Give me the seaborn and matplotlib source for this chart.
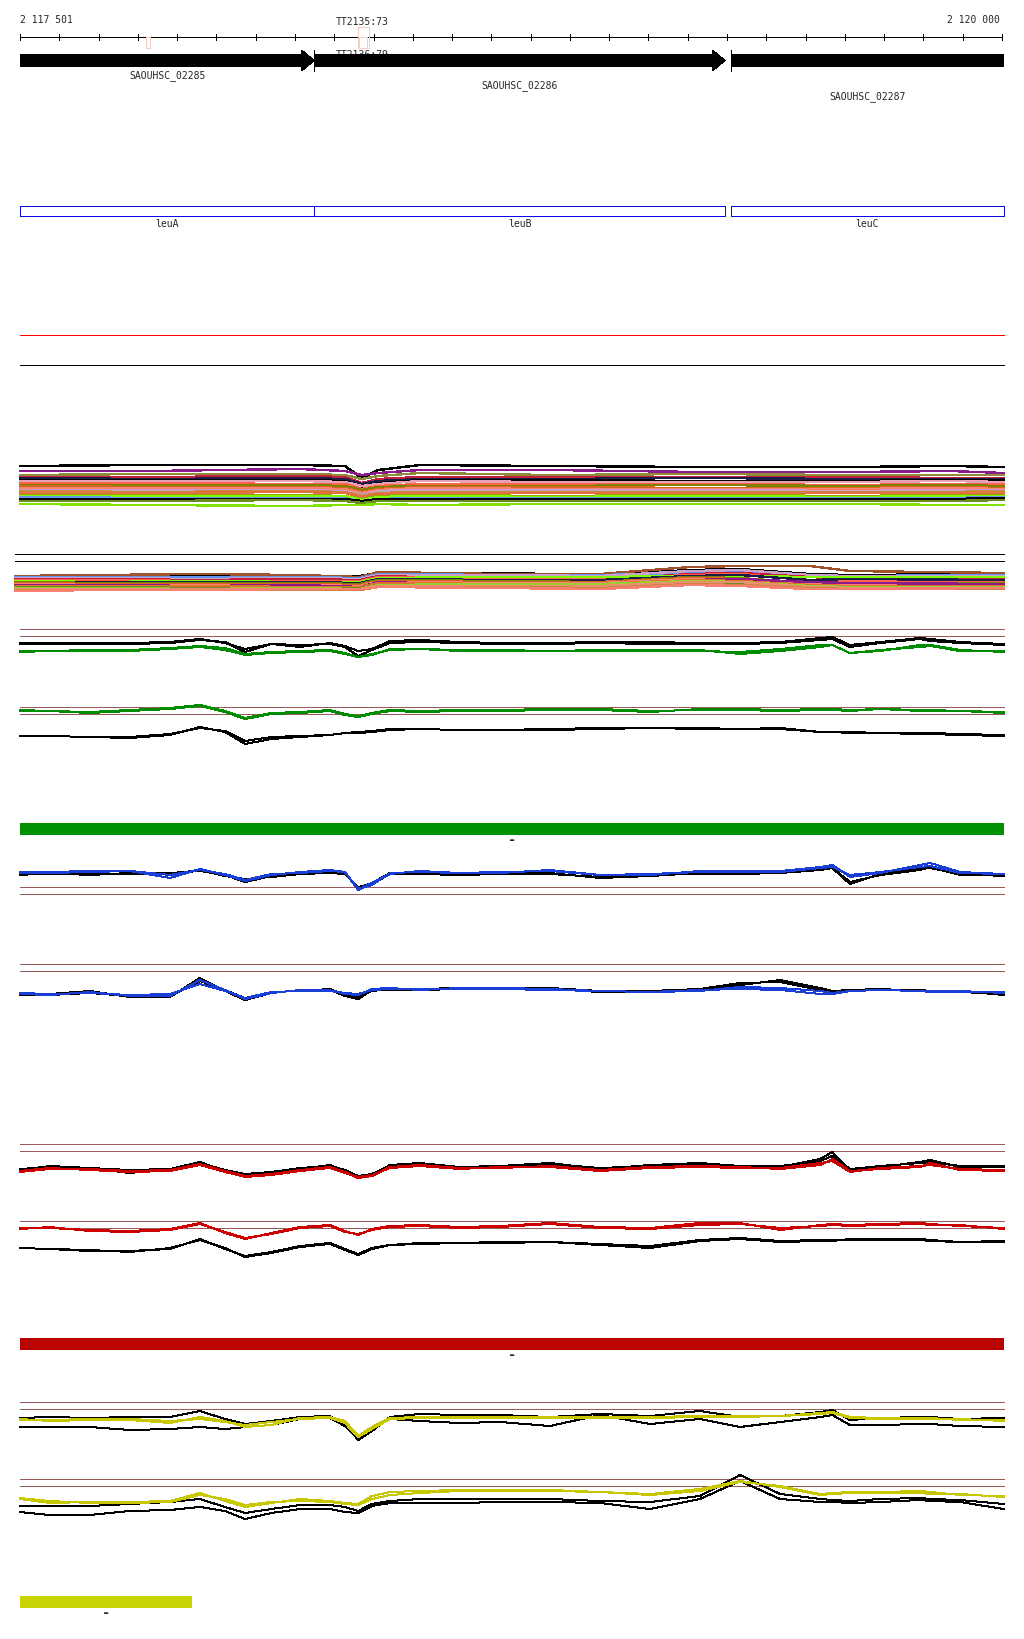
import numpy as np
import pandas as pd
import matplotlib
matplotlib.use("Agg")
import matplotlib.pyplot as plt
import seaborn as sns
from matplotlib.patches import Polygon, Rectangle

sns.set_theme(style="white")
plt.rcParams['font.family'] = ['DejaVu Sans Mono', 'DejaVu Sans']
# crisp, pixel-like lines as in the browser screenshot
plt.rcParams['lines.antialiased'] = False
plt.rcParams['patch.antialiased'] = False

# ---------------- data ----------------
WIN_START = 2117500
WIN_END = 2120005
RULER_END = 2120000

GENE_NAMES = ["SAOUHSC_02285", "SAOUHSC_02286", "SAOUHSC_02287"]
GENE_START = [2117500, 2118249, 2119310]
GENE_END = [2118249, 2119295, 2120100]

FEAT_NAMES = ["leuA", "leuB", "leuC"]
FEAT_START = [2117500, 2118249, 2119310]
FEAT_END = [2118249, 2119295, 2120005]

TERM_NAMES = ["", "TT2135:73", "TT2136:79"]
TERM_START = [2117821, 2118361, 2118363]
TERM_END = [2117831, 2118389, 2118383]
TERM_TALL = [False, True, False]

# positions (bp) where the profile tracks were read
POS = [2117500, 2117576, 2117678, 2117780, 2117882, 2117958, 2118022, 2118073,
       2118140, 2118213, 2118289, 2118327, 2118361, 2118396, 2118442, 2118518,
       2118620, 2118722, 2118849, 2118977, 2119104, 2119231, 2119333, 2119435,
       2119537, 2119568, 2119613, 2119690, 2119791, 2119817, 2119893, 2120005]

# green panels
G1_THRESH = [40, 33]
G1_BLACK_A = [26,26,26,26,27,30,26,20,25,22,26,23,18,20,28,29,27,26,26,27,27,26,26,27,31,32,24,27,31,30,27,25]
G1_BLACK_B = [25,25,25,25,26,29,27,17,25,24,25,22,13,19,26,27,26,25,25,26,25,25,25,26,29,30,22,26,30,28,26,24]
G1_GREEN_A = [18,18,19,19,21,23,21,15,17,18,19,16,12,15,19,20,19,19,18,18,18,19,15,18,22,24,16,19,22,23,18,18]
G1_GREEN_B = [17,18,18,18,20,22,19,14,16,17,18,15,12,14,20,20,18,18,18,19,19,18,17,20,24,24,16,18,24,24,19,17]

G2_THRESH = [42, 35]
G2_GREEN_A = [39,38,37,39,41,44,38,31,36,37,39,35,33,36,39,38,39,39,40,39,37,40,39,38,39,40,39,40,39,39,38,37]
G2_GREEN_B = [38,38,36,38,40,43,37,30,35,36,38,34,32,35,38,37,38,38,39,40,38,39,40,39,40,39,38,40,38,38,38,36]
G2_BLACK_A = [13,13,12,12,15,21,18,8,12,13,14,16,17,18,20,20,19,19,20,21,21,21,20,21,17,17,17,16,16,16,15,14]
G2_BLACK_B = [13,13,12,11,14,22,17,5,10,12,14,16,16,17,19,20,19,19,19,20,21,20,20,20,17,17,16,16,15,15,14,13]

# blue panels
H1_THRESH = [12, 5]
H1_BLUE_A = [26,27,28,28,21,30,24,18,24,27,29,27,9,16,25,28,26,26,29,24,24,28,27,28,32,34,22,26,34,36,27,25]
H1_BLUE_B = [27,26,27,28,24,29,25,19,25,26,28,27,10,14,26,27,26,27,28,24,25,27,28,27,31,32,24,27,32,33,26,25]
H1_BLACK_A = [25,25,26,25,26,28,24,17,23,26,27,26,11,16,26,26,25,25,26,21,23,26,26,26,30,31,15,25,31,31,25,23]
H1_BLACK_B = [24,26,24,26,25,29,23,20,22,25,26,25,12,15,25,25,24,25,25,22,24,25,25,26,29,31,17,24,29,32,24,24]

H2_THRESH = [45, 38]
H2_BLUE_A = [15,14,17,13,13,29,19,10,16,19,19,15,14,20,21,19,21,21,20,18,17,19,20,19,15,15,18,19,18,17,17,17]
H2_BLUE_B = [16,15,16,14,15,25,18,11,17,18,18,16,15,19,20,20,20,20,19,18,17,18,22,21,18,16,18,19,18,18,18,16]
H2_BLACK_A = [14,14,16,13,12,31,18,9,16,19,19,13,10,19,19,20,21,21,21,18,17,20,26,27,19,17,19,19,19,18,17,15]
H2_BLACK_B = [15,15,18,12,13,28,19,11,17,18,20,14,12,18,20,19,20,21,20,17,18,20,24,29,21,18,19,20,18,18,18,14]

# red panels
R1_THRESH = [45, 38]
R1_BLACK_A = [19,23,21,16,20,27,18,14,16,20,24,18,12,14,24,26,22,23,26,20,24,26,23,22,30,37,19,22,27,29,22,23]
R1_BLACK_B = [20,22,21,19,20,26,19,15,17,21,23,19,13,15,23,25,22,22,25,21,23,25,22,23,28,33,20,23,26,27,23,22]
R1_RED_A = [17,20,20,18,19,25,18,13,15,19,22,17,11,13,22,24,21,21,23,19,22,23,22,20,24,30,18,20,22,26,19,18]
R1_RED_B = [18,21,19,17,18,24,17,12,14,18,21,16,12,14,21,23,20,22,22,18,21,22,21,21,26,28,17,21,23,24,20,19]

R2_THRESH = [48, 41]
R2_RED_A = [41,41,39,38,40,46,36,30,36,42,44,38,34,40,43,44,42,43,46,42,41,46,46,39,44,45,44,45,46,45,43,41]
R2_RED_B = [40,42,38,37,39,45,37,31,35,41,43,37,35,39,42,43,41,42,45,41,40,44,45,41,43,44,43,44,45,44,44,40]
R2_BLACK_A = [21,20,18,18,20,30,20,13,17,23,26,20,15,21,24,26,26,27,27,25,23,29,31,28,29,29,29,30,30,29,27,28]
R2_BLACK_B = [21,20,19,17,21,29,21,12,16,22,25,19,14,20,24,25,26,26,27,24,21,28,30,27,28,28,30,29,29,28,27,27]

# yellow panels
Y1_THRESH = [47, 40]
Y1_BLACK_A = [31,32,31,32,32,38,30,25,28,32,33,25,9,18,32,35,34,34,32,35,33,38,32,33,37,39,29,31,32,32,30,31]
Y1_BLACK_B = [22,22,22,19,20,22,20,22,24,30,31,23,10,20,30,28,26,27,23,34,25,30,22,27,32,34,24,24,25,25,23,22]
Y1_YELLOW_A = [29,29,30,29,26,32,28,22,24,31,32,28,13,22,31,32,32,32,32,32,32,33,33,33,36,37,32,31,30,30,30,28]
Y1_YELLOW_B = [30,28,29,30,28,30,27,24,27,30,31,26,12,20,30,31,31,31,31,31,31,32,32,33,35,36,31,30,31,31,29,29]

Y2_THRESH = [50, 43]
Y2_YELLOW_A = [30,26,27,27,28,36,28,22,26,30,28,26,25,33,37,38,39,39,39,37,35,40,48,42,34,35,36,37,38,37,34,33]
Y2_YELLOW_B = [31,28,26,26,27,34,30,24,27,28,27,25,24,30,34,36,38,38,38,37,34,38,47,43,35,36,37,36,36,35,35,32]
Y2_BLACK_A = [23,23,23,25,27,30,22,16,20,24,24,22,18,25,28,30,30,30,30,28,27,33,54,35,30,29,28,30,31,30,29,25]
Y2_BLACK_B = [17,14,14,18,19,22,18,10,16,20,20,17,16,23,26,26,26,27,27,26,20,30,48,30,27,27,26,27,29,28,27,20]

# multi-sample bands
BAND1_POS = [2117500, 2117831, 2118213, 2118327, 2118370, 2118412,
             2118518, 2118849, 2119231, 2119613, 2119868, 2120005]
BAND1_COLORS = ["#000000", "#8b1a8b", "#8f8a3c", "#c41e3a", "#1c1c48", "#000000",
                "#e8a0b4", "#ff6347", "#808000", "#d2691e", "#fa8072", "#c8a0c8",
                "#cd853f", "#e07040", "#a0a000", "#7cfc00", "#6495ed", "#000000",
                "#6b8e23", "#80e000"]
BAND1_VALUES = [
    [48,49,49,48,36,44,49,48,47,47,48,47],
    [43,43,45,43,39,41,44,44,42,42,43,41],
    [39,40,40,39,35,38,41,39,40,39,39,39],
    [37,37,38,37,31,35,37,37,37,37,36,36],
    [36,35,36,35,30,33,35,35,36,35,35,35],
    [34,34,34,33,27,31,34,34,33,33,34,34],
    [33,33,33,32,28,30,33,32,32,32,33,32],
    [31,31,30,30,25,28,30,30,30,29,30,30],
    [29,29,29,28,24,27,28,28,29,28,29,28],
    [28,27,27,26,22,25,27,27,26,26,27,26],
    [26,26,26,25,21,24,26,25,25,25,26,25],
    [24,24,24,23,19,23,24,24,24,23,24,24],
    [23,22,23,22,18,21,22,22,22,22,22,23],
    [21,21,22,21,17,20,21,21,21,21,21,21],
    [19,19,19,18,15,18,19,18,19,18,19,19],
    [18,18,18,18,14,17,18,17,18,17,18,18],
    [17,16,16,16,12,15,16,16,16,16,16,17],
    [15,15,15,15,13,15,15,15,15,15,15,16],
    [13,13,14,13,11,13,13,13,13,13,13,14],
    [10,9,8,9,9,10,9,10,10,10,9,9],
]

BAND2_POS = [2117487, 2117704, 2117958, 2118213, 2118366, 2118412, 2118722,
             2118977, 2119206, 2119333, 2119511, 2119613, 2120005]
BAND2_COLORS = ["#000000", "#a0522d", "#6495ed", "#c8a0c8", "#c41e3a", "#ff6347",
                "#7cfc00", "#1c1c48", "#808000", "#d2691e", "#fa8072", "#8b1a8b",
                "#e07030", "#6b8e23", "#9acd32", "#e89070", "#cd853f", "#fa8072"]
BAND2_VALUES = [
    [23,23,23,23,23,26,26,24,29,30,25,24,25],
    [23,24,25,24,22,27,25,25,32,33,33,28,26],
    [22,22,22,22,21,25,24,24,26,28,23,23,24],
    [21,21,20,21,20,24,24,23,28,29,24,23,23],
    [20,20,19,20,19,23,20,19,25,26,22,20,21],
    [19,19,18,18,18,22,21,20,24,25,19,18,18],
    [18,17,18,17,17,21,22,22,23,23,22,22,22],
    [17,17,17,17,16,20,19,19,23,24,19,20,19],
    [17,16,16,16,15,19,18,17,22,21,16,15,16],
    [16,15,15,15,14,18,17,17,21,20,16,15,15],
    [15,14,14,14,13,17,16,16,20,19,15,14,14],
    [14,14,13,14,12,17,14,14,19,20,17,16,15],
    [13,13,13,12,12,16,15,15,19,18,14,13,13],
    [12,12,11,11,11,14,13,12,16,16,12,11,11],
    [11,11,10,11,10,14,15,15,18,17,13,12,12],
    [10,10,10,10,10,13,13,13,17,17,12,11,10],
    [9,9,9,9,9,12,12,11,15,14,11,10,10],
    [8,9,9,10,10,12,11,10,14,13,10,10,11],
]

# colour key bars
BAR_COLORS = ["#009000", "#bb0000", "#c8d404"]
BAR_END = [2120005, 2120005, 2117938]

# ---------------- layout ----------------
W, H = 1024, 1640
BP_PER_PX = 2500 / 982
XMIN = WIN_START - 20 * BP_PER_PX
XMAX = XMIN + W * BP_PER_PX
LW = 0.72   # one pixel at dpi 100
BROWN = "#9a5a5a"
GREEN = "#008c00"
BLUE = "#1a3fd6"
RED = "#cc0000"
YELLOW = "#c8c800"

fig = plt.figure(figsize=(W / 100, H / 100), dpi=100)
ax0 = fig.add_axes([0, 0, 1, 1])
ax0.set_xlim(XMIN, XMAX)
ax0.set_ylim(H, 0)
ax0.axis("off")

# ruler
ax0.hlines(38, WIN_START, RULER_END, color="black", lw=LW)
ticks = list(range(WIN_START, RULER_END + 1, 100))
ax0.vlines(ticks, 35, 41, color="black", lw=LW)
ax0.text(WIN_START, 20, "2 117 501", fontsize=7, ha="left", va="center")
ax0.text(RULER_END - 5, 20, "2 120 000", fontsize=7, ha="right", va="center")

# terminators
for s, e, tall in zip(TERM_START, TERM_END, TERM_TALL):
    top = 28 if tall else 38
    ax0.add_patch(Rectangle((s, top), e - s, 49 - top, fill=False,
                            edgecolor="#f5cdc3", lw=LW, zorder=2))
ax0.text(2118305, 22, TERM_NAMES[1], fontsize=7, ha="left", va="center", zorder=2)
ax0.text(2118305, 50, TERM_NAMES[2], fontsize=7, ha="left", va="top", zorder=2)

# genes
HEAD = 32
label_rows = [76, 86, 97]
for s, e, name, row in zip(GENE_START, GENE_END, GENE_NAMES, label_rows):
    if e <= WIN_END:
        pts = [(s, 55), (e - HEAD, 55), (e - HEAD, 51), (e, 61.5),
               (e - HEAD, 72), (e - HEAD, 68), (s, 68)]
        mid = (s + e) / 2
    else:
        pts = [(s, 55), (WIN_END, 55), (WIN_END, 68), (s, 68)]
        mid = (s + WIN_END) / 2
    ax0.add_patch(Polygon(pts, closed=True, facecolor="black", edgecolor="none", zorder=3))
    if s > WIN_START:
        ax0.vlines(s, 51, 72, color="black", lw=LW, zorder=3)
    ax0.text(mid, row, name, fontsize=7, ha="center", va="center")

# features
for s, e, name in zip(FEAT_START, FEAT_END, FEAT_NAMES):
    ax0.add_patch(Rectangle((s, 207), e - s, 10, fill=False, edgecolor="#0a0ae0", lw=LW))
    ax0.text((s + e) / 2, 224, name, fontsize=7, ha="center", va="center")

ax0.hlines(336, WIN_START, WIN_END, color="#ff0000", lw=LW)
ax0.hlines(366, WIN_START, WIN_END, color="black", lw=LW)
ax0.hlines([555, 562], WIN_START - 13, WIN_END, color="black", lw=LW)

# colour bars
bar_rows = [824, 1339, 1597]
for c, e, row in zip(BAR_COLORS, BAR_END, bar_rows):
    ax0.add_patch(Rectangle((WIN_START, row), e - WIN_START, 12, facecolor=c, edgecolor="none"))
    ax0.text((WIN_START + e) / 2, row + 16, "-", fontsize=10, fontweight="bold",
             ha="center", va="center")


def panel(top, bottom):
    ax = fig.add_axes([0, 1 - bottom / H, 1, (bottom - top) / H])
    ax.patch.set_alpha(0)
    return ax


def finish(ax, top, bottom):
    ax.set_xlim(XMIN, XMAX)
    ax.set_ylim(0, bottom - top)
    ax.axis("off")


def signal_panel(top, bottom, thresh, series):
    ax = panel(top, bottom)
    ax.hlines(thresh, WIN_START, WIN_END, color=BROWN, lw=LW)
    for vals, c in series:
        sns.lineplot(x=POS, y=vals, ax=ax, color=c, linewidth=LW, legend=False)
    finish(ax, top, bottom)


# bands
ax = panel(455, 515)
for vals, c in zip(BAND1_VALUES, BAND1_COLORS):
    sns.lineplot(x=BAND1_POS, y=vals, ax=ax, color=c, linewidth=1.0, legend=False)
finish(ax, 455, 515)

ax = panel(560, 600)
for vals, c in zip(BAND2_VALUES, BAND2_COLORS):
    sns.lineplot(x=BAND2_POS, y=vals, ax=ax, color=c, linewidth=1.0, legend=False)
finish(ax, 560, 600)

signal_panel(620, 670, G1_THRESH, [(G1_BLACK_A, "black"), (G1_BLACK_B, "black"),
                                   (G1_GREEN_A, GREEN), (G1_GREEN_B, GREEN)])
signal_panel(700, 750, G2_THRESH, [(G2_BLACK_A, "black"), (G2_BLACK_B, "black"),
                                   (G2_GREEN_A, GREEN), (G2_GREEN_B, GREEN)])
signal_panel(850, 900, H1_THRESH, [(H1_BLACK_A, "black"), (H1_BLACK_B, "black"),
                                   (H1_BLUE_A, BLUE), (H1_BLUE_B, BLUE)])
signal_panel(960, 1010, H2_THRESH, [(H2_BLACK_A, "black"), (H2_BLACK_B, "black"),
                                    (H2_BLUE_A, BLUE), (H2_BLUE_B, BLUE)])
signal_panel(1140, 1190, R1_THRESH, [(R1_BLACK_A, "black"), (R1_BLACK_B, "black"),
                                     (R1_RED_A, RED), (R1_RED_B, RED)])
signal_panel(1215, 1270, R2_THRESH, [(R2_BLACK_A, "black"), (R2_BLACK_B, "black"),
                                     (R2_RED_A, RED), (R2_RED_B, RED)])
signal_panel(1395, 1450, Y1_THRESH, [(Y1_BLACK_A, "black"), (Y1_BLACK_B, "black"),
                                     (Y1_YELLOW_A, YELLOW), (Y1_YELLOW_B, YELLOW)])
signal_panel(1465, 1530, Y2_THRESH, [(Y2_BLACK_A, "black"), (Y2_BLACK_B, "black"),
                                     (Y2_YELLOW_A, YELLOW), (Y2_YELLOW_B, YELLOW)])

fig.savefig("out.png", dpi=100)
